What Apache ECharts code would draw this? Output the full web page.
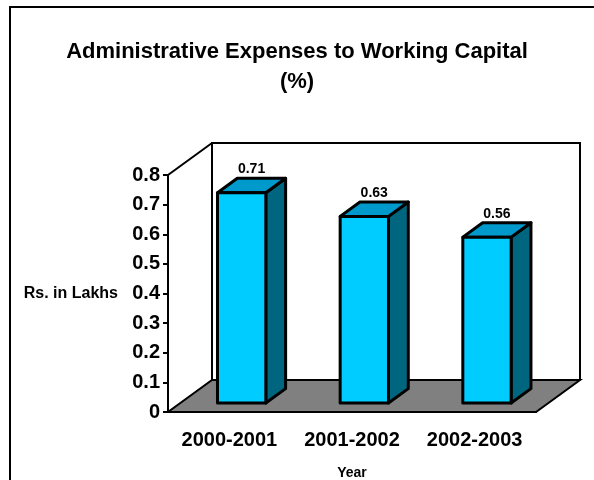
<!DOCTYPE html>
<html>
<head>
<meta charset="utf-8">
<script src="https://cdn.jsdelivr.net/npm/echarts@6/dist/echarts.min.js"></script>
<style>
  html, body { margin: 0; padding: 0; background: #ffffff; }
  #main { width: 594px; height: 480px; }
</style>
</head>
<body>
<div id="main"></div>
<script>
// chart data
const years = ['2000-2001', '2001-2002', '2002-2003'];
const ratios = [0.71, 0.63, 0.56];

const FONT = 'Arial, "Liberation Sans", sans-serif';
// 3d depth offset of the plot box (px)
const DX = 44, DY = -32;
// bar sits between these depth fractions
const D0 = 0.28, D1 = 0.73;

const chart = echarts.init(document.getElementById('main'));

// floor + back wall
const renderFrame = (params, api) => {
    const cs = params.coordSys;
    const x0 = cs.x, x1 = cs.x + cs.width;
    const yt = cs.y, yb = cs.y + cs.height;
    return {
        type: 'group',
        children: [
            {
                type: 'polygon',
                shape: { points: [[x0, yb], [x1, yb], [x1 + DX, yb + DY], [x0 + DX, yb + DY]] },
                style: { fill: '#808080', stroke: '#000', lineWidth: 2 }
            },
            {
                type: 'polyline',
                shape: { points: [[x0 + DX, yb + DY], [x0 + DX, yt + DY], [x1 + DX, yt + DY], [x1 + DX, yb + DY]] },
                style: { fill: null, stroke: '#000', lineWidth: 2 }
            },
            {
                type: 'line',
                shape: { x1: x0, y1: yt, x2: x0 + DX, y2: yt + DY },
                style: { stroke: '#000', lineWidth: 2 }
            }
        ]
    };
};

const renderBar = (params, api) => {
    const base = api.coord([api.value(0), 0]);
    const top = api.coord([api.value(0), api.value(1)]);
    const bw = api.size([1, 0])[0];
    const hw = bw * 0.197;
    const fx0 = base[0] - hw + DX * D0;
    const fx1 = base[0] + hw + DX * D0;
    const yb = base[1] + DY * D0;
    const yt = top[1] + DY * D0;
    const ddx = DX * (D1 - D0), ddy = DY * (D1 - D0);
    const edge = { stroke: '#000', lineWidth: 3, lineJoin: 'round' };
    return {
        type: 'group',
        children: [
            {
                type: 'polygon',
                shape: { points: [[fx1, yb], [fx1, yt], [fx1 + ddx, yt + ddy], [fx1 + ddx, yb + ddy]] },
                style: Object.assign({ fill: '#006680' }, edge)
            },
            {
                type: 'polygon',
                shape: { points: [[fx0, yt], [fx1, yt], [fx1 + ddx, yt + ddy], [fx0 + ddx, yt + ddy]] },
                style: Object.assign({ fill: '#0099cc' }, edge)
            },
            {
                type: 'rect',
                shape: { x: fx0, y: yt, width: fx1 - fx0, height: yb - yt },
                style: Object.assign({ fill: '#00ccff' }, edge)
            },
            {
                type: 'text',
                x: (fx0 + fx1 + ddx) / 2,
                y: yt + ddy - 2,
                style: {
                    text: String(api.value(1)),
                    font: 'bold 14px ' + FONT,
                    fill: '#000',
                    align: 'center',
                    verticalAlign: 'bottom'
                }
            }
        ]
    };
};

chart.setOption({
    animation: false,
    backgroundColor: '#ffffff',
    title: {
        text: 'Administrative Expenses to Working Capital\n(%)',
        left: 'center',
        top: 32,
        textStyle: { fontFamily: FONT, fontWeight: 'bold', fontSize: 22, lineHeight: 30, color: '#000' }
    },
    graphic: [{
        type: 'rect',
        shape: { x: 10, y: 7, width: 640, height: 520 },
        style: { fill: null, stroke: '#000', lineWidth: 2 },
        silent: true
    }],
    grid: { left: 168, right: 58, top: 175, bottom: 68, outerBoundsMode: 'none', containLabel: false },
    xAxis: {
        type: 'category',
        data: years,
        name: 'Year',
        nameLocation: 'middle',
        nameGap: 54,
        nameTextStyle: { fontFamily: FONT, fontWeight: 'bold', fontSize: 14, color: '#000' },
        axisLine: { lineStyle: { color: '#000', width: 2 } },
        axisTick: { length: 6, lineStyle: { color: '#000', width: 2 } },
        axisLabel: { interval: 0, hideOverlap: false, margin: 18, fontFamily: FONT, fontWeight: 'bold', fontSize: 20, color: '#000' }
    },
    yAxis: {
        type: 'value',
        min: 0,
        max: 0.8,
        interval: 0.1,
        name: 'Rs. in Lakhs',
        nameLocation: 'middle',
        nameRotate: 0,
        nameGap: 50,
        nameTextStyle: { fontFamily: FONT, fontWeight: 'bold', fontSize: 16, color: '#000', align: 'right', verticalAlign: 'middle', padding: [5, 0, 0, 0] },
        axisLine: { show: true, lineStyle: { color: '#000', width: 2 } },
        axisTick: { show: true, length: 5, lineStyle: { color: '#000', width: 2 } },
        axisLabel: { margin: 8, fontFamily: FONT, fontWeight: 'bold', fontSize: 20, color: '#000' },
        splitLine: { show: false }
    },
    series: [
        {
            type: 'custom',
            renderItem: renderFrame,
            data: [[0, 0]],
            silent: true,
            z: 1
        },
        {
            type: 'custom',
            renderItem: renderBar,
            encode: { x: 0, y: 1 },
            data: years.map((y, i) => [i, ratios[i]]),
            z: 2
        }
    ]
});
</script>
</body>
</html>
